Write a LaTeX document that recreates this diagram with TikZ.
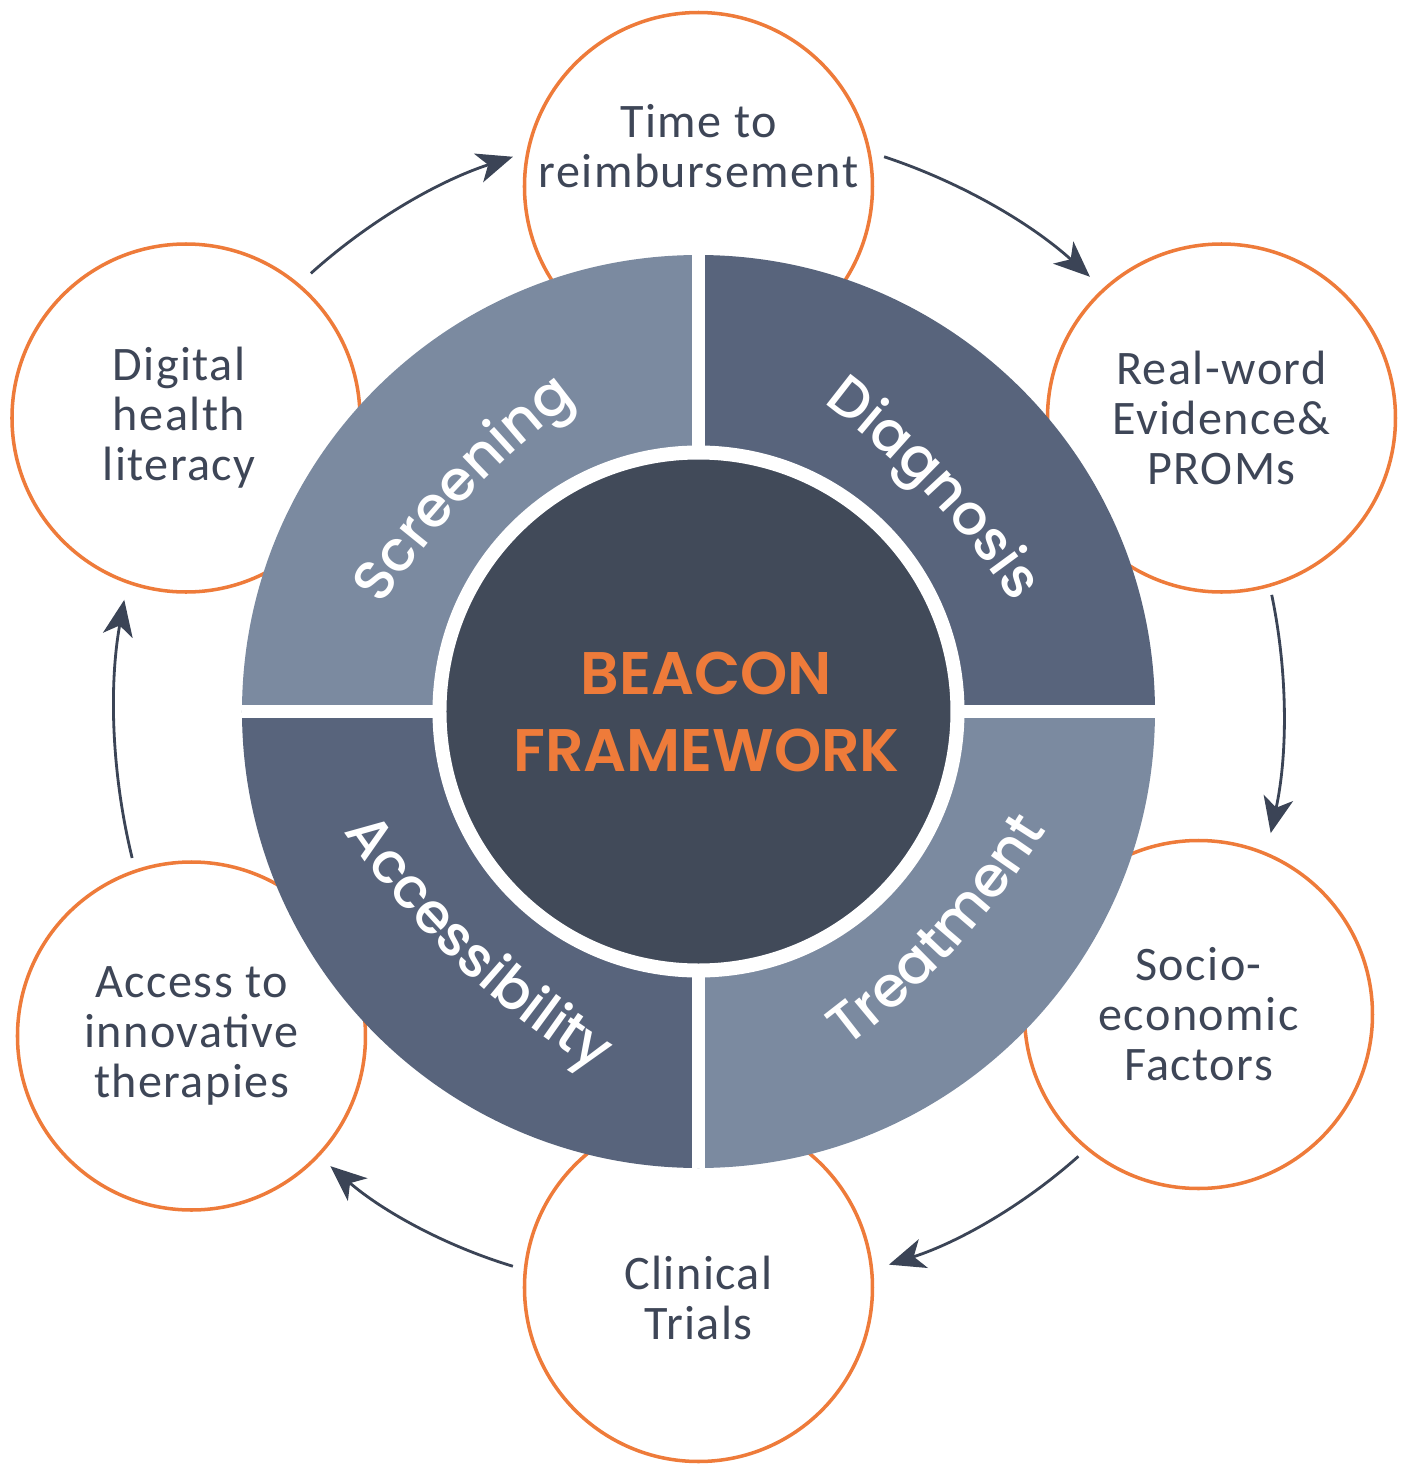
\documentclass[tikz,border=0pt]{standalone}
\usepackage{fontspec}
\usetikzlibrary{arrows.meta,decorations.text}
\newfontfamily\capfont{Carlito}[LetterSpace=3]
\newfontfamily\ringfont{Poppins Medium}
\newfontfamily\beaconfont{Poppins SemiBold}
\definecolor{orng}{HTML}{EE7B3A}
\definecolor{slate}{HTML}{3E4657}
\definecolor{paleq}{HTML}{7B8AA0}
\definecolor{deepq}{HTML}{58647C}
\definecolor{core}{HTML}{414A59}
\definecolor{arrowc}{HTML}{3B4456}
\begin{document}
\begin{tikzpicture}[
  bubble/.style={circle, draw=orng, line width=1pt, fill=white, minimum size=3.48cm, inner sep=0pt},
  caption/.style={align=center, text=slate, font=\capfont\fontsize{13.7}{14.2}\selectfont},
  flow/.style={draw=arrowc, line width=0.8pt, -{Stealth[length=3.6mm,width=3mm,inset=1mm]}},
  hub/.style={circle, fill=core, draw=white, line width=0.14cm, minimum size=5.18cm, inner sep=0pt},
  hubtext/.style={align=center, text=orng, font=\beaconfont\fontsize{17.1}{21.9}\selectfont},
  gap/.style={draw=white, line width=0.13cm},
  ringlabel/.style={decorate, decoration={text along path, text align=center, text color=white,
    text={|\ringfont\fontsize{16}{16}\selectfont|#1}}}]
\useasboundingbox (-6.985,-7.625) rectangle (7.115,7.115);
\node[bubble, label={[name=time-t, caption, yshift=4mm]center:Time to\\reimbursement}] (time) at (0,5.25) {};
\node[bubble, label={[name=rwe-t, caption]center:Real-word\\Evidence\&\\PROMs}] (rwe) at (5.23,2.935) {};
\node[bubble, label={[name=socio-t, caption]center:Socio-\\economic\\Factors}] (socio) at (5.0,-3.03) {};
\node[bubble, label={[name=trials-t, caption, yshift=-1mm]center:Clinical\\Trials}] (trials) at (0,-5.76) {};
\node[bubble, label={[name=access-t, caption]center:Access to\\innovative\\therapies}] (access) at (-5.07,-3.245) {};
\node[bubble, label={[name=literacy-t, caption, xshift=-0.7mm]center:Digital\\health\\literacy}] (literacy) at (-5.125,2.935) {};
\foreach \s/\e [count=\i] in {71.5/48,11.5/-12,-49.5/-71,-108.5/-129,194.5/169,131.5/108.5} {
  \coordinate (arr\i a) at (\s:5.85);
  \coordinate (arr\i b) at (\e:5.85);
  \draw[flow] (arr\i a) to[bend left=12, looseness=0.86] (arr\i b);
}
\foreach \a/\c in {0/deepq,90/paleq,180/deepq,270/paleq}
  \fill[\c] (0,0) -- (\a:4.565) arc[start angle=\a, end angle=\a+90, radius=4.565] -- cycle;
\draw[gap] (-4.565,0) -- (4.565,0);
\draw[gap] (0,-4.565) -- (0,4.565);
\node[hub, label={[name=hub-t, hubtext, xshift=0.8mm]center:BEACON\\FRAMEWORK}] (hub) at (0,0) {};
\path[ringlabel=Screening, shift={(136.5:-4.85)}] (151.5:8) arc[start angle=151.5, end angle=121.5, radius=8];
\path[ringlabel=Diagnosis, shift={(43.5:-4.85)}] (58.5:8) arc[start angle=58.5, end angle=28.5, radius=8];
\path[ringlabel=Treatment, shift={(-42.5:-4.5)}] (-57.5:8) arc[start angle=-57.5, end angle=-27.5, radius=8];
\path[ringlabel=Accessibility, shift={(-133.5:-4.5)}] (-148.5:8) arc[start angle=-148.5, end angle=-118.5, radius=8];
\end{tikzpicture}
\end{document}
